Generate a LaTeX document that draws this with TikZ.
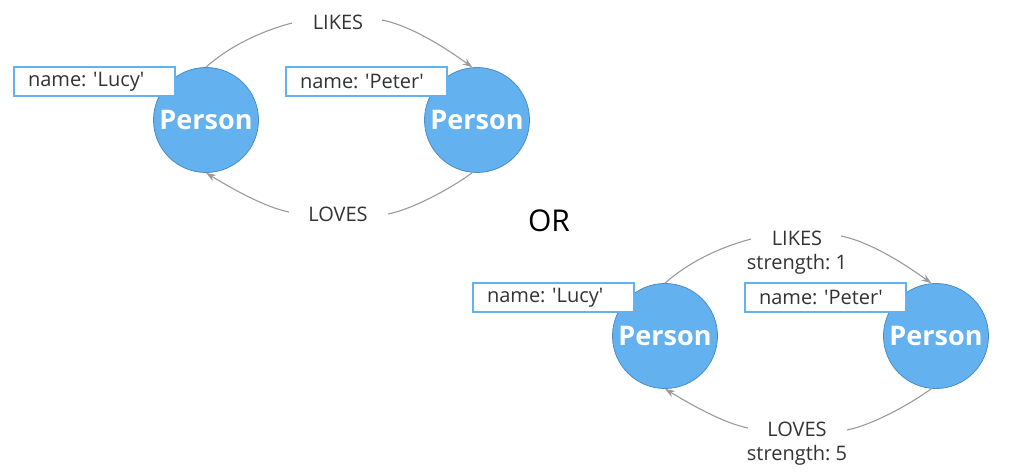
\documentclass[tikz,border=0pt]{standalone}
\usepackage{fontspec}
\setmainfont{Open Sans}
\usetikzlibrary{arrows.meta}
\definecolor{nodefill}{HTML}{63B1EF}
\definecolor{nodeline}{HTML}{4C8DC4}
\definecolor{boxline}{HTML}{63B1EF}
\definecolor{edgecol}{HTML}{9A9A9A}
\definecolor{txt}{HTML}{333333}
\frenchspacing
\begin{document}
\begin{tikzpicture}[x=1pt,y=-1pt,
  person/.style={circle, fill=nodefill, draw=nodeline, line width=0.8pt, minimum size=105pt, inner sep=0pt, text=white, font=\bfseries\fontsize{27}{32}\selectfont},
  prop/.style={draw=boxline, fill=white, line width=1.2pt, minimum height=29pt, text width=133pt, inner xsep=14pt, inner ysep=0pt, align=left, text=txt, font=\fontsize{20}{24}\selectfont},
  rel/.style={text=txt, font=\fontsize{20}{24}\selectfont, align=center, inner sep=0pt},
  ortext/.style={text=black, font=\fontsize{30}{36}\selectfont, inner sep=0pt},
  edge/.style={draw=edgecol, line width=1.1pt},
  arr/.style={edge, -{Stealth[length=10pt,width=7pt]}}]
\useasboundingbox (0,0) rectangle (1020,476);

% ---- first graph ----
\node[person] (l1) at (206,120) {Person};
\node[person] (p1) at (477,120) {Person};
\node[prop] (lb1) at (94.5,81.5) {name: \textquotesingle Lucy\textquotesingle};
\node[prop] (pb1) at (366.5,81.5) {name: \textquotesingle Peter\textquotesingle};
\node[rel] (likes1) at (338,22) {LIKES};
\node[rel] (loves1) at (338,214) {LOVES};
\coordinate (a1) at (292,23);
\coordinate (b1) at (382,20);
\coordinate (c1) at (388,214);
\coordinate (d1) at (289,212);
\draw[edge] (l1.90) .. controls +(25,-22) and +(-30,8) .. (a1);
\draw[arr] (b1) .. controls +(30,6) and +(-25,-18) .. (p1.95);
\draw[edge] (p1.265) .. controls +(-22,16) and +(25,-5) .. (c1);
\draw[arr] (d1) .. controls +(-25,-5) and +(25,15) .. (l1.270);

\node[ortext] (or) at (549,221) {OR};

% ---- second graph ----
\node[person] (l2) at (665,336) {Person};
\node[person] (p2) at (936,336) {Person};
\node[prop] (lb2) at (553.5,297.5) {name: \textquotesingle Lucy\textquotesingle};
\node[prop] (pb2) at (825.5,297.5) {name: \textquotesingle Peter\textquotesingle};
\node[rel] (likes2) at (797,253) {LIKES\\strength: 1};
\node[rel] (loves2) at (797,443.5) {LOVES\\strength: 5};
\coordinate (a2) at (751,239);
\coordinate (b2) at (841,236);
\coordinate (c2) at (847,430);
\coordinate (d2) at (748,428);
\draw[edge] (l2.90) .. controls +(25,-22) and +(-30,8) .. (a2);
\draw[arr] (b2) .. controls +(30,6) and +(-25,-18) .. (p2.95);
\draw[edge] (p2.265) .. controls +(-22,16) and +(25,-5) .. (c2);
\draw[arr] (d2) .. controls +(-25,-5) and +(25,15) .. (l2.270);
\end{tikzpicture}
\end{document}
